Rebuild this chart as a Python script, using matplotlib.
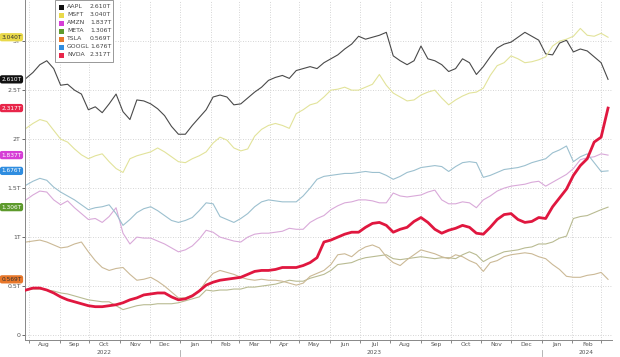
import numpy as np
import pandas as pd
import matplotlib
matplotlib.use("Agg")
import matplotlib.pyplot as plt
import matplotlib.dates as mdates
import matplotlib.transforms as mtransforms
from matplotlib.patches import Rectangle

# weekly closes, market cap in trillions of USD
dates = pd.date_range("2022-07-29", periods=85, freq="7D")

aapl = [2.62, 2.68, 2.76, 2.80, 2.72, 2.55, 2.56, 2.50, 2.46, 2.30, 2.33, 2.27, 2.36, 2.46, 2.28,
        2.20, 2.40, 2.39, 2.36, 2.31, 2.24, 2.13, 2.05, 2.05, 2.14, 2.22, 2.30, 2.43, 2.45, 2.43,
        2.35, 2.36, 2.42, 2.48, 2.53, 2.60, 2.63, 2.65, 2.62, 2.70, 2.72, 2.74, 2.72, 2.78, 2.82,
        2.86, 2.92, 2.97, 3.05, 3.02, 3.04, 3.06, 3.09, 2.85, 2.80, 2.76, 2.80, 2.95, 2.82, 2.80,
        2.76, 2.69, 2.72, 2.82, 2.78, 2.66, 2.74, 2.84, 2.93, 2.97, 2.99, 3.04, 3.09, 3.05, 3.01,
        2.87, 2.86, 2.98, 3.01, 2.89, 2.92, 2.90, 2.84, 2.78, 2.61]
msft = [2.11, 2.16, 2.20, 2.18, 2.09, 2.00, 1.97, 1.90, 1.84, 1.80, 1.83, 1.85, 1.77, 1.70, 1.66,
        1.80, 1.83, 1.85, 1.87, 1.91, 1.87, 1.82, 1.77, 1.76, 1.80, 1.83, 1.87, 1.96, 2.02, 1.99,
        1.91, 1.88, 1.90, 2.03, 2.10, 2.14, 2.16, 2.14, 2.11, 2.26, 2.30, 2.35, 2.37, 2.43, 2.50,
        2.51, 2.53, 2.50, 2.50, 2.53, 2.56, 2.66, 2.55, 2.47, 2.43, 2.39, 2.40, 2.45, 2.48, 2.50,
        2.42, 2.35, 2.40, 2.44, 2.47, 2.48, 2.52, 2.65, 2.75, 2.78, 2.85, 2.82, 2.78, 2.79, 2.81,
        2.84, 2.95, 3.00, 3.02, 3.05, 3.13, 3.06, 3.05, 3.08, 3.04]
amzn = [1.38, 1.43, 1.47, 1.46, 1.38, 1.33, 1.37, 1.30, 1.24, 1.18, 1.19, 1.15, 1.21, 1.30, 1.04,
        0.93, 1.00, 0.99, 0.99, 0.96, 0.93, 0.89, 0.85, 0.87, 0.91, 0.98, 1.07, 1.05, 1.00, 0.98,
        0.96, 0.95, 1.00, 1.03, 1.04, 1.04, 1.05, 1.06, 1.09, 1.08, 1.08, 1.15, 1.19, 1.22, 1.28,
        1.32, 1.35, 1.36, 1.38, 1.38, 1.37, 1.35, 1.35, 1.45, 1.42, 1.41, 1.42, 1.43, 1.46, 1.48,
        1.38, 1.34, 1.34, 1.36, 1.35, 1.30, 1.38, 1.42, 1.47, 1.50, 1.52, 1.53, 1.54, 1.56, 1.57,
        1.52, 1.56, 1.60, 1.64, 1.70, 1.79, 1.81, 1.82, 1.85, 1.837]
meta = [0.46, 0.47, 0.47, 0.46, 0.45, 0.43, 0.42, 0.40, 0.38, 0.36, 0.35, 0.34, 0.34, 0.30, 0.26,
        0.28, 0.30, 0.31, 0.31, 0.32, 0.32, 0.32, 0.33, 0.35, 0.37, 0.39, 0.46, 0.45, 0.46, 0.46,
        0.47, 0.47, 0.49, 0.49, 0.50, 0.51, 0.52, 0.54, 0.56, 0.55, 0.55, 0.58, 0.60, 0.62, 0.66,
        0.72, 0.73, 0.74, 0.77, 0.79, 0.80, 0.81, 0.82, 0.78, 0.77, 0.78, 0.79, 0.80, 0.79, 0.78,
        0.79, 0.79, 0.78, 0.82, 0.85, 0.82, 0.75, 0.79, 0.82, 0.85, 0.86, 0.87, 0.89, 0.90, 0.93,
        0.93, 0.95, 0.99, 1.01, 1.19, 1.21, 1.22, 1.25, 1.28, 1.306]
tsla = [0.95, 0.96, 0.97, 0.95, 0.92, 0.89, 0.90, 0.93, 0.95, 0.85, 0.76, 0.69, 0.66, 0.68, 0.69,
        0.62, 0.56, 0.57, 0.59, 0.55, 0.50, 0.44, 0.38, 0.38, 0.41, 0.45, 0.55, 0.63, 0.66, 0.64,
        0.62, 0.59, 0.57, 0.56, 0.57, 0.56, 0.56, 0.55, 0.53, 0.51, 0.53, 0.60, 0.63, 0.66, 0.72,
        0.82, 0.83, 0.80, 0.86, 0.90, 0.92, 0.89, 0.80, 0.74, 0.71, 0.77, 0.82, 0.87, 0.85, 0.83,
        0.80, 0.78, 0.82, 0.80, 0.76, 0.73, 0.65, 0.74, 0.76, 0.80, 0.82, 0.83, 0.84, 0.83, 0.80,
        0.78, 0.72, 0.67, 0.60, 0.59, 0.59, 0.61, 0.62, 0.64, 0.569]
googl = [1.53, 1.57, 1.60, 1.58, 1.51, 1.46, 1.42, 1.38, 1.33, 1.28, 1.30, 1.31, 1.33, 1.24, 1.12,
         1.18, 1.25, 1.29, 1.31, 1.27, 1.22, 1.17, 1.15, 1.17, 1.20, 1.27, 1.35, 1.34, 1.21, 1.18,
         1.15, 1.19, 1.24, 1.31, 1.36, 1.38, 1.37, 1.36, 1.36, 1.36, 1.42, 1.50, 1.59, 1.62, 1.63,
         1.64, 1.65, 1.65, 1.66, 1.67, 1.66, 1.66, 1.63, 1.59, 1.62, 1.66, 1.68, 1.71, 1.72, 1.73,
         1.72, 1.67, 1.72, 1.76, 1.77, 1.76, 1.61, 1.63, 1.66, 1.69, 1.70, 1.71, 1.73, 1.76, 1.78,
         1.80, 1.86, 1.89, 1.93, 1.77, 1.82, 1.85, 1.76, 1.67, 1.676]
nvda = [0.46, 0.48, 0.48, 0.46, 0.43, 0.39, 0.36, 0.34, 0.32, 0.30, 0.29, 0.29, 0.30, 0.31, 0.33,
        0.36, 0.38, 0.41, 0.42, 0.43, 0.43, 0.39, 0.36, 0.37, 0.40, 0.45, 0.51, 0.54, 0.56, 0.57,
        0.58, 0.59, 0.62, 0.65, 0.66, 0.66, 0.67, 0.69, 0.69, 0.69, 0.71, 0.74, 0.79, 0.95, 0.97,
        1.00, 1.03, 1.05, 1.05, 1.10, 1.14, 1.15, 1.12, 1.05, 1.08, 1.10, 1.16, 1.20, 1.15, 1.08,
        1.04, 1.07, 1.09, 1.12, 1.10, 1.04, 1.03, 1.10, 1.18, 1.23, 1.24, 1.18, 1.15, 1.16, 1.20,
        1.19, 1.31, 1.40, 1.49, 1.63, 1.73, 1.80, 1.97, 2.02, 2.317]

tickers = ["AAPL", "MSFT", "AMZN", "META", "TSLA", "GOOGL", "NVDA"]
last_labels = ["2.610T", "3.040T", "1.837T", "1.306T", "0.569T", "1.676T", "2.317T"]
series = [aapl, msft, amzn, meta, tsla, googl, nvda]

# washed-out line colours, and the stronger legend / tag colours
line_colors = ["#4a4a4a", "#e2e39a", "#d9a9d9", "#b9bb92", "#cbb996", "#9cc0cf", "#e0173f"]
tag_colors = ["#111111", "#e9d94a", "#d63fd6", "#5d9a2c", "#e8772a", "#2f8de0", "#e8264a"]
tag_text = ["white", "#333333", "white", "white", "#333333", "white", "white"]

W, H = 620, 357
fig = plt.figure(figsize=(6.2, 3.57), dpi=100)
ax = fig.add_axes([25 / W, 1 - 340 / H, 587 / W, 340 / H])

for name, vals, c in zip(tickers, series, line_colors):
    lw = 2.0 if name == "NVDA" else 0.8
    ax.plot(dates, vals, color=c, lw=lw, zorder=3 if name == "NVDA" else 2)

ax.set_ylim(-0.05, 3.42)
ax.set_xlim(pd.Timestamp("2022-07-28"), pd.Timestamp("2024-03-12"))

yt = [0, 0.5, 1, 1.5, 2, 2.5, 3]
ax.set_yticks(yt)
ax.set_yticklabels(["0", "0.5T", "1T", "1.5T", "2T", "2.5T", "3T"])
ax.tick_params(axis="y", labelsize=4.5, colors="#555555", length=2, width=0.6, pad=1)

ax.xaxis.set_major_locator(mdates.MonthLocator())
ax.xaxis.set_major_formatter(plt.NullFormatter())
ax.xaxis.set_minor_locator(mdates.MonthLocator(bymonthday=16))
ax.xaxis.set_minor_formatter(mdates.DateFormatter("%b"))
ax.tick_params(axis="x", which="major", length=2, width=0.6, colors="#777777")
ax.tick_params(axis="x", which="minor", length=0, labelsize=4.3, labelcolor="#555555", pad=1.5)

ax.grid(True, which="major", color="#c8c8c8", linestyle=(0, (1, 2)), lw=0.6)
for s in ["top", "right"]:
    ax.spines[s].set_visible(False)
for s in ["left", "bottom"]:
    ax.spines[s].set_color("#888888")
    ax.spines[s].set_linewidth(0.7)

# year labels and separators under the month row
trans = mtransforms.blended_transform_factory(ax.transData, ax.transAxes)
for yr, mid in [("2022", "2022-10-16"), ("2023", "2023-07-16"), ("2024", "2024-02-15")]:
    ax.text(pd.Timestamp(mid), -0.036, yr, transform=trans, ha="center", va="center",
            fontsize=4.2, color="#555555", clip_on=False)
for sep in ["2023-01-01", "2024-01-01"]:
    ax.plot([pd.Timestamp(sep)] * 2, [-0.028, -0.046], transform=trans, color="#aaaaaa",
            lw=0.6, clip_on=False)

# last-value tags on the left axis
ytrans = mtransforms.blended_transform_factory(ax.transAxes, ax.transData)
for vals, lab, fc, tc in zip(series, last_labels, tag_colors, tag_text):
    ax.text(-0.006, vals[-1], lab, transform=ytrans, ha="right", va="center",
            fontsize=4.2, color=tc, clip_on=False, zorder=5,
            bbox=dict(boxstyle="round,pad=0.28,rounding_size=0.4", fc=fc, ec="none"))

# legend box drawn by hand so the values line up in a column
fx = lambda px: px / W
fy = lambda py: 1 - py / H
fig.patches.append(Rectangle((fx(55), fy(62)), fx(58), 62 / H, transform=fig.transFigure,
                             fc="white", ec="#888888", lw=0.6, zorder=10))
row_y = [7, 15, 23, 31, 39, 47, 55]
for ry, t, v, c in zip(row_y, tickers, last_labels, tag_colors):
    fig.patches.append(Rectangle((fx(59), fy(ry + 2.5)), fx(5), 5 / H, transform=fig.transFigure,
                                 fc=c, ec="none", zorder=11))
    fig.text(fx(67), fy(ry), t, fontsize=4.4, color="#444444", va="center", ha="left", zorder=12)
    fig.text(fx(90), fy(ry), v, fontsize=4.4, color="#444444", va="center", ha="left", zorder=12)

fig.savefig("out.png", dpi=100)
